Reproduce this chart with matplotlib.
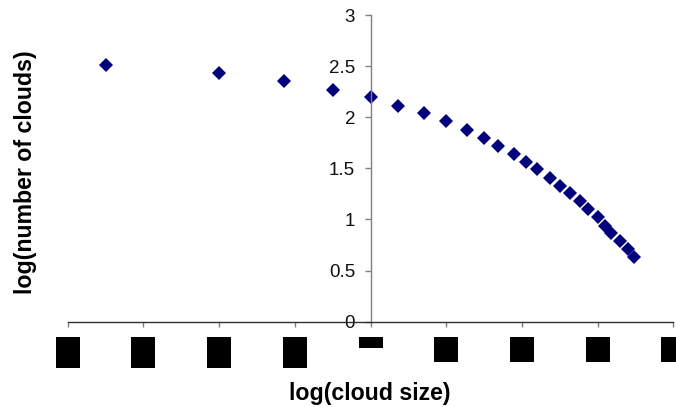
import numpy as np
import matplotlib.pyplot as plt
from matplotlib.path import Path

# log-log cloud size distribution
log_size = [-3.50, -2.00, -1.14, -0.50, 0.00, 0.36, 0.71, 1.00, 1.27, 1.50,
            1.68, 1.89, 2.05, 2.20, 2.37, 2.50, 2.63, 2.76, 2.87, 3.00,
            3.10, 3.18, 3.29, 3.40, 3.48]
log_count = [2.51, 2.43, 2.35, 2.27, 2.20, 2.11, 2.04, 1.96, 1.88, 1.80,
             1.72, 1.64, 1.56, 1.49, 1.41, 1.33, 1.26, 1.18, 1.10, 1.02,
             0.94, 0.87, 0.79, 0.71, 0.63]

x_ticks = [-4, -3, -2, -1, 0, 1, 2, 3, 4]
x_labels = ['-4', '-3', '-2', '-1', '0', '1', '2', '3', '4']
y_ticks = [0, 0.5, 1, 1.5, 2, 2.5, 3]
y_labels = ['0', '0.5', '1', '1.5', '2', '2.5', '3']

plt.rcParams['font.family'] = ['Liberation Sans', 'DejaVu Sans']

fig = plt.figure(figsize=(6.76, 4.07), dpi=100)
ax = fig.add_axes([0.1001, 0.2096, 0.8962, 0.7535])

ax.plot(log_size, log_count, linestyle='none', marker='D', ms=7.0,
        color='#000080', markeredgewidth=0)

ax.set_xlim(-4, 4)
ax.set_ylim(0, 3)

# axes cross at the origin, excel style
ax.spines['left'].set_position(('data', 0))
ax.spines['top'].set_visible(False)
ax.spines['right'].set_visible(False)
ax.spines['left'].set_color('#808080')
ax.spines['bottom'].set_color('#303030')
ax.spines['left'].set_linewidth(1.0)
ax.spines['bottom'].set_linewidth(1.0)

ax.set_yticks(y_ticks, y_labels)
ax.set_xticks(x_ticks, x_labels)
ax.tick_params(axis='y', direction='out', length=4, width=1, color='#808080',
               pad=7.2, labelsize=13.5, labelcolor='#111111')
ax.tick_params(axis='x', direction='out', length=3.3, width=1, color='#808080',
               pad=7.6, labelsize=8, labelcolor='black')


def solid_box(h):
    # fixed-size block under the tick label, top aligned with the text
    def box(x0, y0, width, height, mutation_size):
        cx = x0 + width / 2
        top = y0 + height
        verts = [(cx - 12, top), (cx + 12, top), (cx + 12, top - h),
                 (cx - 12, top - h), (cx - 12, top)]
        codes = [Path.MOVETO, Path.LINETO, Path.LINETO, Path.LINETO, Path.CLOSEPOLY]
        return Path(verts, codes)
    return box


for lbl, val in zip(ax.get_xticklabels(), x_ticks):
    h = 31 if val < 0 else (11 if val == 0 else 25)
    lbl.set_bbox(dict(boxstyle=solid_box(h), fc='black', ec='black', lw=0))

fig.text(0.5473, 0.006, 'log(cloud size)', ha='center', va='bottom',
         fontsize=16.7, fontweight='bold')
fig.text(0.038, 0.578, 'log(number of clouds)', ha='center', va='center',
         rotation=90, fontsize=16.7, fontweight='bold')

plt.savefig('out.png', dpi=100)
